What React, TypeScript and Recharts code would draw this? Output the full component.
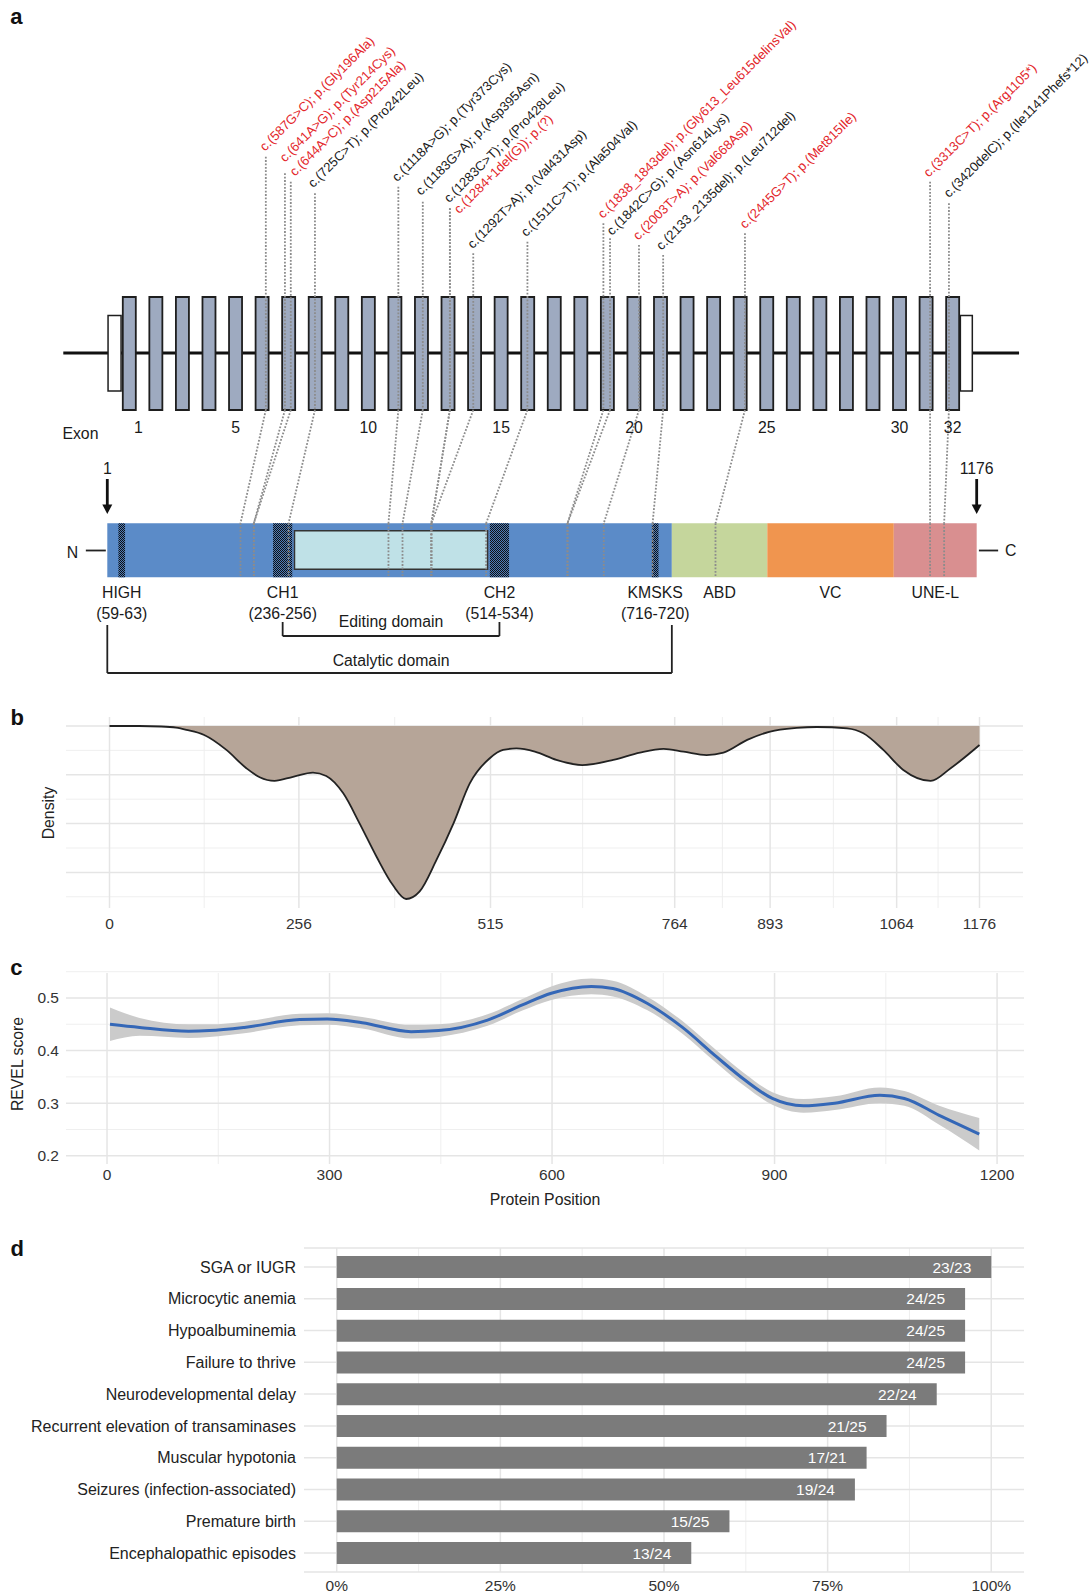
import React from 'react';
import {
  ComposedChart, AreaChart, BarChart, Area, Line, Bar, Scatter, XAxis, YAxis,
  CartesianGrid, ReferenceArea, ReferenceLine, ReferenceDot, LabelList,
} from 'recharts';

const FONT = '"Liberation Sans", Arial, Helvetica, sans-serif';
const INK = '#1a1a1a';
const TICK = '#333333';
const RED = '#e3262b';

// ---------- panel a: gene and protein ----------
const exonNumbers = [1, 2, 3, 4, 5, 6, 7, 8, 9, 10, 11, 12, 13, 14, 15, 16, 17, 18, 19, 20, 21, 22, 23, 24, 25, 26, 27, 28, 29, 30, 31, 32];
const exonTickLabels = [1, 5, 10, 15, 20, 25, 30, 32];

const variantNames = [
  'c.(587G>C); p.(Gly196Ala)',
  'c.(641A>G); p.(Tyr214Cys)',
  'c.(644A>C); p.(Asp215Ala)',
  'c.(725C>T); p.(Pro242Leu)',
  'c.(1118A>G); p.(Tyr373Cys)',
  'c.(1183G>A); p.(Asp395Asn)',
  'c.(1283C>T); p.(Pro428Leu)',
  'c.(1284+1del(G)); p.(?)',
  'c.(1292T>A); p.(Val431Asp)',
  'c.(1511C>T); p.(Ala504Val)',
  'c.(1838_1843del); p.(Gly613_Leu615delinsVal)',
  'c.(1842C>G); p.(Asn614Lys)',
  'c.(2003T>A); p.(Val668Asp)',
  'c.(2133_2135del); p.(Leu712del)',
  'c.(2445G>T); p.(Met815Ile)',
  'c.(3313C>T); p.(Arg1105*)',
  'c.(3420delC); p.(Ile1141Phefs*12)',
];
const variantIsNovel = [true, true, true, false, false, false, false, true, false, false, true, false, true, false, true, true, false];
// where the leader crosses the exon row (exon number, fractional)
const variantExon = [6.14, 6.86, 7.08, 7.99, 11.13, 12.05, 13.07, 13.07, 13.95, 15.99, 18.85, 19.1, 20.19, 21.1, 24.18, 31.15, 31.86];
// where the leader meets the protein bar (residue)
const variantProtein = [181, 199, 199, 246, 381, 400, 439, 439, 439, 513, 623, 623, 672, 738, 823, 1113, 1132];

const domainNames = ['', 'ABD', 'VC', 'UNE-L'];
const domainStart = [1, 764, 893, 1064];
const domainEnd = [764, 893, 1064, 1176];
const motifNames = ['HIGH', 'CH1', 'CH2', 'KMSKS'];
const motifSpans = ['(59-63)', '(236-256)', '(514-534)', '(716-720)'];
const motifStart = [16, 225, 518, 737];
const motifEnd = [25, 251, 544, 746];
const editingSpan = [254, 515];
const catalyticSpan = [1, 764];
const proteinLength = 1176;

// layout for panel a (label and leader placement)
const leaderTop = [156.7, 173.3, 181.7, 193.3, 186.7, 201.7, 208.3, 208.3, 253.3, 241.7, 223.3, 238.3, 245, 255, 233.3, 181.7, 203.3];
const labelBase = [151.7, 162.7, 176.7, 188.3, 182.3, 196, 203.3, 214.3, 249.3, 237.3, 219, 236, 240.7, 250.7, 229.3, 177.7, 198.3];
const labelDx = [-0.7, 0, 4.3, -1.7, -1, -1.7, -0.7, 9.3, -0.6, -1.3, -0.3, 2, -0.7, -1.6, 0, -1.3, 0];
const domainFill = ['#5b8bc8', '#c5d69c', '#f0954f', '#d98f90'];
const ROW = {
  exonTop: 297, exonBottom: 410, utrTop: 315.5, utrBottom: 391, gene: 353, exonLabel: 427,
  arrowText: 468, arrowTip: 514, protTop: 523.3, protBottom: 577.3, editTop: 530.7, editBottom: 569.3,
  motif1: 592.7, motif2: 613.3, editLabel: 621.7, editBracketTop: 622, editBracket: 636,
  catLabel: 660, catBracketTop: 625, catBracket: 673, nc: 550.5,
};
const A_W = 1092;
const A_H = 690;
const EXON_PX = 26.56;
const EXON1_X = 129.3;
const AA_PX = 0.7399;
const AA1_X = 107.3;
const EXON_DOMAIN = [1 - EXON1_X / EXON_PX, 1 + (A_W - EXON1_X) / EXON_PX];
const PROT_DOMAIN = [1 - AA1_X / AA_PX, 1 + (A_W - AA1_X) / AA_PX];
// protein residues drawn on the exon axis (both scales share the panel width)
const aa = (p: number) =>
  EXON_DOMAIN[0] + ((p - PROT_DOMAIN[0]) * (EXON_DOMAIN[1] - EXON_DOMAIN[0])) / (PROT_DOMAIN[1] - PROT_DOMAIN[0]);

// ---------- panel b: variant density ----------
const densityTicks = [0, 256, 515, 764, 893, 1064, 1176];
const densityPos = [0, 40, 70, 90, 104, 128, 158, 185, 203, 223, 248, 275, 293, 316, 338, 361, 383, 401, 419, 442, 465, 487, 514, 532, 550, 575, 604, 639, 681, 717, 749, 776, 807, 830, 862, 893, 929, 956, 997, 1019, 1046, 1073, 1110, 1137, 1176];
const densityValue = [0, 0, 0.02, 0.07, 0.16, 0.37, 0.98, 1.73, 2.1, 2.25, 2.08, 1.91, 2.05, 2.76, 3.99, 5.36, 6.52, 7.09, 6.79, 5.49, 3.99, 2.35, 1.32, 0.98, 0.92, 1.05, 1.39, 1.6, 1.39, 1.09, 0.94, 1.05, 1.19, 1.09, 0.57, 0.23, 0.08, 0.04, 0.1, 0.3, 0.98, 1.8, 2.25, 1.73, 0.78];

// ---------- panel c: REVEL smooth ----------
const revelTicksX = [0, 300, 600, 900, 1200];
const revelTicksY = [0.2, 0.3, 0.4, 0.5];
const revelPos = [4, 44, 110, 138, 185, 260, 297, 344, 410, 447, 513, 560, 599, 653, 682, 728, 775, 822, 860, 897, 939, 981, 1042, 1075, 1122, 1176];
const revelMean = [0.45, 0.444, 0.437, 0.438, 0.444, 0.459, 0.46, 0.453, 0.436, 0.438, 0.458, 0.487, 0.509, 0.522, 0.518, 0.49, 0.445, 0.388, 0.344, 0.309, 0.295, 0.3, 0.315, 0.309, 0.277, 0.241];
const revelLower = [0.418, 0.428, 0.424, 0.426, 0.433, 0.448, 0.449, 0.442, 0.423, 0.426, 0.447, 0.476, 0.496, 0.507, 0.503, 0.477, 0.433, 0.376, 0.332, 0.297, 0.282, 0.287, 0.3, 0.295, 0.259, 0.21];
const revelUpper = [0.482, 0.462, 0.45, 0.45, 0.455, 0.47, 0.471, 0.464, 0.449, 0.45, 0.469, 0.498, 0.522, 0.537, 0.533, 0.503, 0.457, 0.4, 0.356, 0.321, 0.308, 0.313, 0.33, 0.323, 0.295, 0.272];

// ---------- panel d: phenotypes ----------
const phenotypes = [
  'SGA or IUGR', 'Microcytic anemia', 'Hypoalbuminemia', 'Failure to thrive', 'Neurodevelopmental delay',
  'Recurrent elevation of transaminases', 'Muscular hypotonia', 'Seizures (infection-associated)',
  'Premature birth', 'Encephalopathic episodes',
];
const affected = [23, 24, 24, 24, 22, 21, 17, 19, 15, 13];
const assessed = [23, 25, 25, 25, 24, 25, 21, 24, 25, 24];
const percentTicks = [0, 25, 50, 75, 100];

const midpoints = (t: number[]) => t.slice(1).map((v, i) => (v + t[i]) / 2);

const txt = (value: string, o: { size?: number; fill?: string; anchor?: string; dx?: number } = {}) => (p: any) => (
  <text x={p.cx + (o.dx || 0)} y={p.cy} textAnchor={o.anchor || 'middle'} dominantBaseline="central"
    fontSize={o.size || 15.8} fill={o.fill || INK} fontFamily={FONT}>{value}</text>
);

const arrowShape = (p: any) => (
  <g>
    <line x1={p.cx} y1={p.cy - 35} x2={p.cx} y2={p.cy - 8} stroke="#111" strokeWidth={2.8} />
    <path d={`M${p.cx - 5},${p.cy - 9.5} L${p.cx + 5},${p.cy - 9.5} L${p.cx},${p.cy} Z`} fill="#111" />
  </g>
);

function VariantLabel(p: any) {
  const { cx, cy, payload } = p;
  const x = cx + payload.dx;
  const y = cy;
  return (
    <text x={x} y={y} transform={`rotate(-45 ${x} ${y})`} fontSize={13.1} fontFamily={FONT}
      fill={payload.novel ? RED : INK}>{payload.name}</text>
  );
}

function PanelA() {
  const labels = variantNames.map((name, i) => ({
    name, novel: variantIsNovel[i], ex: variantExon[i], y: labelBase[i], dx: labelDx[i],
  }));
  const dotted = { stroke: '#8c8c8c', strokeWidth: 1.8, strokeDasharray: '1.8 1.6' };
  const bracket = { stroke: '#222', strokeWidth: 1.8 };
  const E = { xAxisId: 'exon', yAxisId: 'row', ifOverflow: 'visible' as const };
  const seg = (key: string, x1: number, y1: number, x2: number, y2: number, style: any) => (
    <ReferenceLine key={key} {...E} {...style} segment={[{ x: x1, y: y1 }, { x: x2, y: y2 }]} />
  );
  const editA = aa((motifStart[1] + motifEnd[1]) / 2);
  const editB = aa((motifStart[2] + motifEnd[2]) / 2);
  const cat0 = aa(catalyticSpan[0]);
  const cat1 = aa(catalyticSpan[1]);
  return (
    <ComposedChart width={A_W} height={A_H} margin={{ top: 0, right: 0, bottom: 0, left: 0 }}>
      <defs>
        <pattern id="hatch" width="2" height="2" patternUnits="userSpaceOnUse">
          <rect width="2" height="2" fill="#4d7cba" />
          <rect width="1" height="1" fill="#111" />
          <rect x="1" y="1" width="1" height="1" fill="#111" />
        </pattern>
      </defs>
      <XAxis xAxisId="exon" type="number" dataKey="ex" domain={EXON_DOMAIN} hide allowDataOverflow />
      <YAxis yAxisId="row" type="number" dataKey="y" domain={[0, A_H]} reversed hide allowDataOverflow />

      {/* gene backbone, UTRs, exons */}
      <ReferenceArea {...E} x1={-1.485} x2={34.5} y1={ROW.gene - 1.5} y2={ROW.gene + 1.5} fill="#111" fillOpacity={1} stroke="none" />
      <ReferenceArea {...E} x1={0.2} x2={0.69} y1={ROW.utrTop} y2={ROW.utrBottom} fill="#fff" fillOpacity={1} stroke="#1e1e1e" strokeWidth={1.5} />
      <ReferenceArea {...E} x1={32.29} x2={32.74} y1={ROW.utrTop} y2={ROW.utrBottom} fill="#fff" fillOpacity={1} stroke="#1e1e1e" strokeWidth={1.5} />
      {exonNumbers.map((n) => (
        <ReferenceArea key={`ex${n}`} {...E} x1={n - 0.245} x2={n + 0.245} y1={ROW.exonTop} y2={ROW.exonBottom}
          fill="#9eaac0" fillOpacity={1} stroke="#1e1e1e" strokeWidth={1.8} />
      ))}

      {/* protein domains */}
      {domainStart.map((s, i) => (
        <ReferenceArea key={`dom${i}`} {...E} x1={aa(s)} x2={aa(domainEnd[i])} y1={ROW.protTop} y2={ROW.protBottom}
          fill={domainFill[i]} fillOpacity={1} stroke="none" />
      ))}
      {motifStart.map((s, i) => (
        <ReferenceArea key={`mot${i}`} {...E} x1={aa(s)} x2={aa(motifEnd[i])} y1={ROW.protTop} y2={ROW.protBottom}
          fill="url(#hatch)" fillOpacity={1} stroke="none" />
      ))}
      <ReferenceArea {...E} x1={aa(editingSpan[0])} x2={aa(editingSpan[1])} y1={ROW.editTop} y2={ROW.editBottom}
        fill="#bfe1e7" fillOpacity={1} stroke="#333" strokeWidth={1.5} />

      {/* leaders from exon to residue */}
      {variantExon.map((ex, i) => {
        const pr = aa(variantProtein[i]);
        return [
          seg(`l1${i}`, ex, leaderTop[i], ex, ROW.exonBottom, dotted),
          seg(`l2${i}`, ex, ROW.exonBottom, pr, ROW.protTop, dotted),
          seg(`l3${i}`, pr, ROW.protTop, pr, ROW.protBottom, dotted),
        ];
      })}

      {/* brackets and terminals */}
      {seg('eb1', editA, ROW.editBracketTop, editA, ROW.editBracket, bracket)}
      {seg('eb2', editA, ROW.editBracket, editB, ROW.editBracket, bracket)}
      {seg('eb3', editB, ROW.editBracket, editB, ROW.editBracketTop, bracket)}
      {seg('cb1', cat0, ROW.catBracketTop, cat0, ROW.catBracket, bracket)}
      {seg('cb2', cat0, ROW.catBracket, cat1, ROW.catBracket, bracket)}
      {seg('cb3', cat1, ROW.catBracket, cat1, ROW.catBracketTop, bracket)}
      {seg('nd', aa(-28), ROW.nc, aa(-1), ROW.nc, bracket)}
      {seg('cd', aa(proteinLength + 3), ROW.nc, aa(proteinLength + 29), ROW.nc, bracket)}

      {/* texts */}
      {exonTickLabels.map((n, i) => (
        <ReferenceDot key={`et${n}`} {...E} x={n} y={ROW.exonLabel} r={0} shape={txt(String(n), { dx: i === 0 ? 9 : 0 })} />
      ))}
      <ReferenceDot {...E} x={-0.84} y={ROW.exonLabel + 6} r={0} shape={txt('Exon')} />
      <ReferenceDot {...E} x={aa(1)} y={ROW.arrowText} r={0} shape={txt('1')} />
      <ReferenceDot {...E} x={aa(proteinLength)} y={ROW.arrowText} r={0} shape={txt(String(proteinLength))} />
      <ReferenceDot {...E} x={aa(1)} y={ROW.arrowTip} r={0} shape={arrowShape} />
      <ReferenceDot {...E} x={aa(proteinLength)} y={ROW.arrowTip} r={0} shape={arrowShape} />
      <ReferenceDot {...E} x={aa(-46)} y={ROW.nc + 2} r={0} shape={txt('N')} />
      <ReferenceDot {...E} x={aa(proteinLength + 46)} y={ROW.nc} r={0} shape={txt('C')} />
      {motifNames.map((m, i) => {
        const c = aa((motifStart[i] + motifEnd[i]) / 2);
        return [
          <ReferenceDot key={`mn${i}`} {...E} x={c} y={ROW.motif1} r={0} shape={txt(m)} />,
          <ReferenceDot key={`ms${i}`} {...E} x={c} y={ROW.motif2} r={0} shape={txt(motifSpans[i])} />,
        ];
      })}
      {domainNames.map((d, i) => d ? (
        <ReferenceDot key={`dn${i}`} {...E} x={aa((domainStart[i] + domainEnd[i]) / 2)} y={ROW.motif1} r={0} shape={txt(d)} />
      ) : null)}
      <ReferenceDot {...E} x={aa((editingSpan[0] + editingSpan[1]) / 2)} y={ROW.editLabel} r={0} shape={txt('Editing domain')} />
      <ReferenceDot {...E} x={aa((editingSpan[0] + editingSpan[1]) / 2)} y={ROW.catLabel} r={0} shape={txt('Catalytic domain')} />

      <Scatter xAxisId="exon" yAxisId="row" data={labels} dataKey="y" shape={VariantLabel} isAnimationActive={false} />
    </ComposedChart>
  );
}

function PanelB() {
  const data = densityPos.map((pos, i) => ({ pos, d: densityValue[i] }));
  const tick = { fontSize: 15.5, fill: TICK, fontFamily: FONT };
  return (
    <AreaChart width={1092} height={238} data={data} margin={{ top: 17, right: 69, bottom: 0, left: 66 }}>
      <CartesianGrid verticalValues={midpoints(densityTicks)} horizontalValues={[1, 3, 5, 7]} stroke="#ededed" strokeWidth={0.9} />
      <CartesianGrid verticalValues={densityTicks} horizontalValues={[0, 2, 4, 6]} stroke="#e5e5e5" strokeWidth={1.5} />
      <XAxis dataKey="pos" type="number" domain={[-58.8, 1234.8]} ticks={densityTicks} interval={0}
        axisLine={false} tickLine={false} tickSize={0} tickMargin={10.4} height={30} tick={tick} allowDataOverflow />
      <YAxis hide type="number" domain={[-0.369, 7.459]} reversed allowDataOverflow />
      <Area type="monotone" dataKey="d" baseValue={0} stroke="#222" strokeWidth={1.8} fill="#b6a598" fillOpacity={1} isAnimationActive={false} />
    </AreaChart>
  );
}

function PanelC() {
  const data = revelPos.map((pos, i) => ({ pos, mean: revelMean[i], band: [revelLower[i], revelUpper[i]] }));
  const tick = { fontSize: 15.5, fill: TICK, fontFamily: FONT };
  return (
    <ComposedChart width={1092} height={234} data={data} margin={{ top: 13, right: 68, bottom: 0, left: 0 }}>
      <CartesianGrid verticalValues={midpoints(revelTicksX)} horizontalValues={[0.25, 0.35, 0.45, 0.55]} stroke="#ededed" strokeWidth={0.9} />
      <CartesianGrid verticalValues={revelTicksX} horizontalValues={revelTicksY} stroke="#e5e5e5" strokeWidth={1.5} />
      <XAxis dataKey="pos" type="number" domain={[-55.3, 1236.3]} ticks={revelTicksX} interval={0}
        axisLine={false} tickLine={false} tickSize={0} tickMargin={4.6} height={30} tick={tick} allowDataOverflow />
      <YAxis type="number" domain={[0.1844, 0.5475]} ticks={revelTicksY} width={66} interval={0}
        tickFormatter={(v: number) => v.toFixed(1)} axisLine={false} tickLine={false} tickSize={0} tickMargin={7} tick={tick} allowDataOverflow />
      <Area type="monotone" dataKey="band" stroke="none" fill="#cbcbcb" fillOpacity={1} isAnimationActive={false} />
      <Line type="monotone" dataKey="mean" stroke="#3467b7" strokeWidth={3} dot={false} isAnimationActive={false} />
    </ComposedChart>
  );
}

function PanelD() {
  const data = phenotypes.map((name, i) => ({
    name, pct: (affected[i] / assessed[i]) * 100, label: `${affected[i]}/${assessed[i]}`,
  }));
  const tick = { fontSize: 15.5, fill: TICK, fontFamily: FONT };
  return (
    <BarChart layout="vertical" width={1092} height={356} data={data} margin={{ top: 8, right: 68, bottom: 0, left: 0 }} barSize={22}>
      <CartesianGrid horizontal={false} verticalValues={midpoints(percentTicks)} stroke="#ededed" strokeWidth={0.9} />
      <CartesianGrid verticalValues={percentTicks} stroke="#e5e5e5" strokeWidth={1.5} />
      <XAxis type="number" domain={[-5, 105]} ticks={percentTicks} interval={0} tickFormatter={(v: number) => `${v}%`}
        axisLine={false} tickLine={false} tickSize={0} tickMargin={8.4} height={24} tick={tick} allowDataOverflow />
      <YAxis type="category" dataKey="name" width={304} interval={0} padding={{ top: 3.1, bottom: 3.1 }}
        axisLine={false} tickLine={false} tickSize={0} tickMargin={8} tick={{ ...tick, fontSize: 16, fill: '#222' }} />
      <Bar dataKey="pct" fill="#7b7b7b" isAnimationActive={false}>
        <LabelList dataKey="label" position="insideRight" offset={20} fill="#ffffff" fontSize={15.5} fontFamily={FONT} />
      </Bar>
    </BarChart>
  );
}

const letter = (t: string, x: number, y: number) => (
  <div style={{ position: 'absolute', left: x, top: y, transform: 'translate(-50%, -50%)', fontSize: 22, fontWeight: 700, lineHeight: 1, color: '#111' }}>{t}</div>
);
const title = (t: string, x: number, y: number, rotate = false) => (
  <div style={{ position: 'absolute', left: x, top: y, transform: `translate(-50%, -50%)${rotate ? ' rotate(-90deg)' : ''}`, fontSize: 15.8, lineHeight: 1, color: '#222', whiteSpace: 'nowrap' }}>{t}</div>
);

export default function App() {
  return (
    <div style={{ position: 'absolute', left: 0, top: 0, width: 1092, height: 1596, background: '#fff', fontFamily: FONT, overflow: 'hidden' }}>
      <div style={{ position: 'absolute', left: 0, top: 0 }}><PanelA /></div>
      <div style={{ position: 'absolute', left: 0, top: 700 }}><PanelB /></div>
      <div style={{ position: 'absolute', left: 0, top: 960 }}><PanelC /></div>
      <div style={{ position: 'absolute', left: 0, top: 1240 }}><PanelD /></div>
      {letter('a', 16.3, 16.5)}
      {letter('b', 17.3, 718)}
      {letter('c', 16.3, 967.5)}
      {letter('d', 17.3, 1249)}
      {title('Density', 49, 813, true)}
      {title('REVEL score', 18.3, 1064, true)}
      {title('Protein Position', 545, 1200)}
    </div>
  );
}
